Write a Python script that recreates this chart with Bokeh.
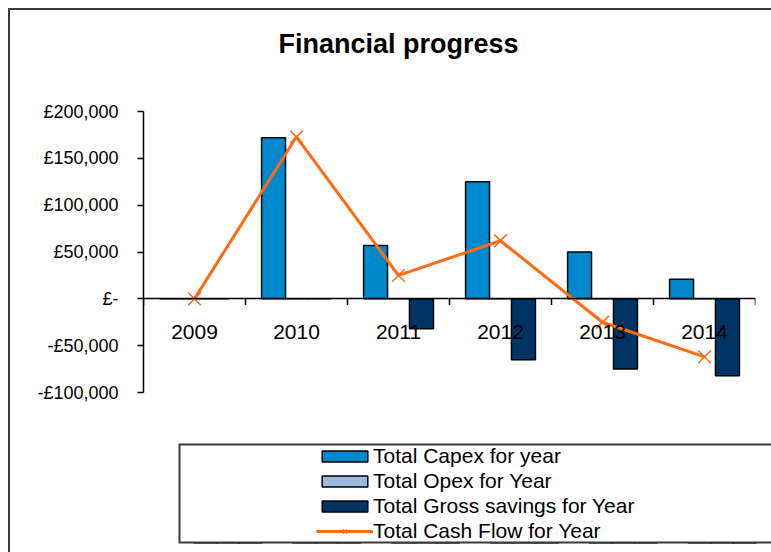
from bokeh.plotting import figure
from bokeh.layouts import column, row
from bokeh.models import (FactorRange, Range1d, FixedTicker, Legend, LegendItem,
                          ColumnDataSource, BoxAnnotation, Spacer, Title)
from bokeh.transform import dodge
from bokeh.embed import file_html
from bokeh.resources import INLINE

# ---- data ----
years = ["2009", "2010", "2011", "2012", "2013", "2014"]
capex = [0, 172000, 57000, 125000, 50000, 21000]
opex = [0, 0, 0, 0, 0, 0]
savings = [0, 0, -32000, -65000, -75000, -82000]
cash_flow = [0, 173000, 25000, 62000, -25000, -62000]
y_ticks = [-100000, -50000, 0, 50000, 100000, 150000, 200000]
y_tick_labels = ["-£100,000", "-£50,000", "£-", "£50,000", "£100,000", "£150,000", "£200,000"]
series_names = ["Total Capex for year", "Total Opex for Year",
                "Total Gross savings for Year", "Total Cash Flow for Year"]

FONT = "Liberation Sans"
C_CAPEX = "#0088CC"
C_OPEX = "#99BBDD"
C_SAV = "#003366"
C_CASH = "#FF6A13"
C_BORDER = "#3a3a3a"
BAR_W = 0.235
OFFS = [-0.225, 0.0, 0.225]

src = ColumnDataSource(dict(year=years, capex=capex, opex=opex,
                            savings=savings, cash=cash_flow))
last_src = ColumnDataSource(dict(year=years[-1:]))


def draw_series(fig):
    rc = fig.vbar(x=dodge("year", OFFS[0], range=fig.x_range), top="capex", width=BAR_W,
                  source=src, fill_color=C_CAPEX, line_color="black", line_width=1.5)
    ro = fig.vbar(x=dodge("year", OFFS[1], range=fig.x_range), top="opex", width=BAR_W,
                  source=src, fill_color=C_OPEX, line_color="black", line_width=1.5)
    rs = fig.vbar(x=dodge("year", OFFS[2], range=fig.x_range), top="savings", width=BAR_W,
                  source=src, fill_color=C_SAV, line_color="black", line_width=1.5)
    return rc, ro, rs


def draw_cash(fig):
    rl = fig.line(x="year", y="cash", source=src, line_color=C_CASH, line_width=3)
    rp = fig.scatter(x="year", y="cash", source=src, marker="x", size=18,
                     line_color=C_CASH, line_width=1.5)
    return rl, rp


# ---------------- main chart ----------------
p = figure(width=761, height=432,
           x_range=FactorRange(*years), y_range=Range1d(-100000, 200000),
           output_backend="svg", toolbar_location=None,
           min_border_left=133, min_border_right=16,
           min_border_top=101, min_border_bottom=50)
p.background_fill_color = "white"
p.border_fill_color = "white"
p.outline_line_color = None
p.grid.visible = False

p.title.text = "Financial progress"
p.title.text_font = FONT
p.title.text_font_size = "27px"
p.title.text_font_style = "bold"
p.title.text_color = "black"
p.title.align = "left"
p.title.offset = 135
p.title.standoff = 0
# blank gap between the title and the plot area
p.add_layout(Title(text=" ", text_font_size="1px", standoff=50), "above")

draw_series(p)

# category boundary tick marks below the zero line
p.segment(x0=dodge("year", -0.5, range=p.x_range), y0=0,
          x1=dodge("year", -0.5, range=p.x_range), y1=-6500,
          source=src, line_color="black", line_width=1.5)
p.segment(x0=dodge("year", 0.5, range=p.x_range), y0=0,
          x1=dodge("year", 0.5, range=p.x_range), y1=-6500,
          source=last_src, line_color="black", line_width=1.5)

draw_cash(p)

xa = p.xaxis[0]
xa.fixed_location = 0
xa.axis_line_color = "black"
xa.axis_line_width = 1.5
xa.major_tick_line_color = None
xa.minor_tick_line_color = None
xa.major_label_text_font = FONT
xa.major_label_text_font_size = "21px"
xa.major_label_text_color = "black"
xa.major_label_standoff = 20

ya = p.yaxis[0]
ya.ticker = FixedTicker(ticks=y_ticks)
ya.major_label_overrides = {t: s for t, s in zip(y_ticks, y_tick_labels)}
ya.axis_line_color = "black"
ya.axis_line_width = 1.5
ya.major_tick_line_color = "black"
ya.major_tick_line_width = 1.5
ya.major_tick_out = 6
ya.major_tick_in = 0
ya.minor_tick_line_color = None
ya.major_label_text_font = FONT
ya.major_label_text_font_size = "18px"
ya.major_label_text_color = "black"
ya.major_label_standoff = 19

# ---------------- legend box (same series, kept out of view; only the key shows) ----
lg = figure(width=726, height=110,
            x_range=FactorRange(*years), y_range=Range1d(300000, 400000),
            output_backend="svg", toolbar_location=None,
            x_axis_location=None, y_axis_location=None,
            min_border_left=133, min_border_right=0,
            min_border_top=1, min_border_bottom=9)
lg.grid.visible = False
lg.background_fill_color = "white"
lg.border_fill_color = "white"
lg.outline_line_color = None

k_capex, k_opex, k_sav = draw_series(lg)
k_line, k_pts = draw_cash(lg)

lg.add_layout(BoxAnnotation(right=10000, right_units="screen",
                            fill_color=None, line_color=C_BORDER,
                            line_alpha=1.0, line_width=4))

legend = Legend(items=[
    LegendItem(label=series_names[0], renderers=[k_capex]),
    LegendItem(label=series_names[1], renderers=[k_opex]),
    LegendItem(label=series_names[2], renderers=[k_sav]),
    LegendItem(label=series_names[3], renderers=[k_line, k_pts]),
], location=(138, 0))
legend.border_line_color = None
legend.background_fill_alpha = 0
legend.padding = 0
legend.margin = 0
legend.spacing = 1
legend.glyph_width = 57
legend.glyph_height = 14
legend.label_standoff = 0
legend.label_height = 23
legend.label_text_font = FONT
legend.label_text_font_size = "21px"
legend.label_text_color = "black"
lg.add_layout(legend)

layout = column(p, row(Spacer(width=35, height=110), lg, spacing=0), spacing=0,
                styles={"margin-left": "8px", "margin-top": "8px",
                        "border-left": "2px solid " + C_BORDER,
                        "border-top": "2px solid " + C_BORDER})

open("out.html", "w").write(file_html(layout, INLINE))
